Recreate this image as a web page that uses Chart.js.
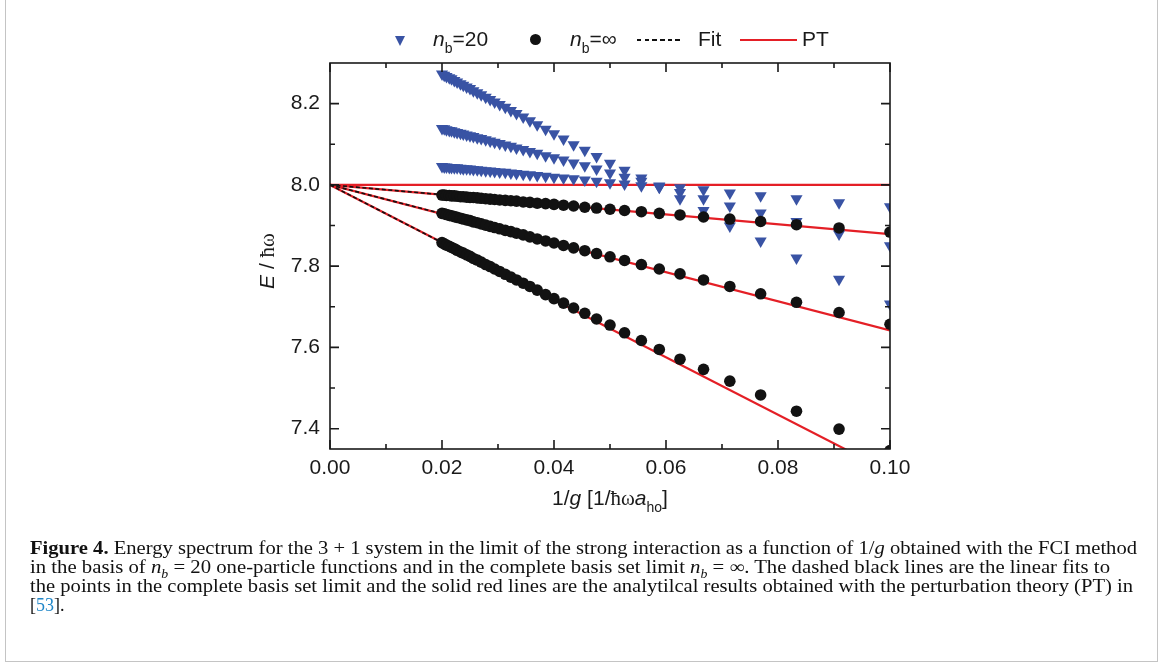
<!DOCTYPE html>
<html>
<head>
<meta charset="utf-8">
<script src="https://cdn.jsdelivr.net/npm/chart.js@4.4.1/dist/chart.umd.min.js"></script>
<style>
  html, body { margin: 0; padding: 0; background: #fff; }
  body { width: 1165px; height: 664px; position: relative; overflow: hidden; font-family: 'Liberation Sans', Arial, sans-serif; color: #1a1a1a; }
  #frame { position: absolute; left: 5px; top: -1px; width: 1153px; height: 663px; border: 1px solid #c4c4c4; box-sizing: border-box; }
  #chart { position: absolute; left: 0; top: 0; }
  .lbl { position: absolute; font-size: 21px; line-height: 24px; white-space: nowrap; }
  .sub { font-size: 14px; position: relative; top: 7px; }
  .serif { font-family: 'Liberation Serif', 'Times New Roman', serif; }
  #caption { position: absolute; left: 30px; top: 539px; font-family: 'Liberation Serif', 'Times New Roman', serif; font-size: 18px; line-height: 19px; color: #111; }
  #caption div { white-space: nowrap; transform-origin: left center; width: max-content; }
  #caption sub { font-size: 12px; line-height: 0; }
  .ref { color: #1f86c8; }
</style>
</head>
<body>
<div id="frame"></div>
<canvas id="chart" width="1165" height="540"></canvas>

<!-- legend -->
<div style="position:absolute;left:395px;top:36px;width:0;height:0;border-left:5.5px solid transparent;border-right:5.5px solid transparent;border-top:10px solid #3953a4"></div>
<div class="lbl" style="left:433px;top:27px"><i>n</i><span class="sub">b</span>=20</div>
<div style="position:absolute;left:530px;top:34px;width:11px;height:11px;border-radius:50%;background:#121212"></div>
<div class="lbl" style="left:570px;top:27px"><i>n</i><span class="sub">b</span>=∞</div>
<div style="position:absolute;left:637px;top:39px;width:46px;height:2px;background:repeating-linear-gradient(90deg,#111 0 4.5px,transparent 4.5px 7.7px)"></div>
<div class="lbl" style="left:698px;top:27px">Fit</div>
<div style="position:absolute;left:740px;top:39px;width:57px;height:2px;background:#e41f26"></div>
<div class="lbl" style="left:802px;top:27px">PT</div>

<!-- axis titles -->
<div class="lbl" style="left:0;width:1220px;top:486px;text-align:center">1/<i>g</i> [1/<span class="serif">ħω</span><i>a</i><span class="sub">ho</span>]</div>
<div class="lbl" style="left:167px;top:249px;width:200px;height:24px;text-align:center;transform:rotate(-90deg)"><i>E</i> / <span class="serif">ħω</span></div>

<div id="caption">
  <div data-w="1107"><b>Figure 4.</b> Energy spectrum for the 3 + 1 system in the limit of the strong interaction as a function of 1/<i>g</i> obtained with the FCI method</div>
  <div data-w="1080">in the basis of <i>n<sub>b</sub></i> = 20 one-particle functions and in the complete basis set limit <i>n<sub>b</sub></i> = ∞. The dashed black lines are the linear fits to</div>
  <div data-w="1103">the points in the complete basis set limit and the solid red lines are the analytilcal results obtained with the perturbation theory (PT) in</div>
  <div>[<span class="ref">53</span>].</div>
</div>

<script>
// 1/g for g = 50 ... 10
const xs = [0.0200, 0.0204, 0.0208, 0.0213, 0.0217, 0.0222, 0.0227, 0.0233, 0.0238, 0.0244,
            0.0250, 0.0256, 0.0263, 0.0270, 0.0278, 0.0286, 0.0294, 0.0303, 0.0313, 0.0323,
            0.0333, 0.0345, 0.0357, 0.0370, 0.0385, 0.0400, 0.0417, 0.0435, 0.0455, 0.0476,
            0.0500, 0.0526, 0.0556, 0.0588, 0.0625, 0.0667, 0.0714, 0.0769, 0.0833, 0.0909,
            0.1000];

// n_b = infinity (black dots), three levels
const infTop = [7.975, 7.975, 7.974, 7.974, 7.973, 7.973, 7.972, 7.971, 7.971, 7.970,
                7.969, 7.969, 7.968, 7.967, 7.966, 7.965, 7.964, 7.963, 7.962, 7.961,
                7.960, 7.958, 7.957, 7.955, 7.954, 7.952, 7.950, 7.948, 7.945, 7.943,
                7.940, 7.937, 7.934, 7.930, 7.926, 7.921, 7.916, 7.910, 7.902, 7.894,
                7.884];
const infMid = [7.930, 7.929, 7.927, 7.925, 7.924, 7.922, 7.920, 7.918, 7.916, 7.914,
                7.912, 7.909, 7.907, 7.904, 7.901, 7.898, 7.895, 7.892, 7.888, 7.885,
                7.881, 7.877, 7.872, 7.867, 7.862, 7.857, 7.851, 7.845, 7.838, 7.831,
                7.823, 7.814, 7.804, 7.793, 7.781, 7.766, 7.750, 7.732, 7.711, 7.686,
                7.657];
const infLow = [7.858, 7.855, 7.852, 7.849, 7.846, 7.843, 7.839, 7.835, 7.832, 7.828,
                7.824, 7.819, 7.815, 7.810, 7.804, 7.799, 7.793, 7.787, 7.780, 7.773,
                7.766, 7.758, 7.750, 7.741, 7.730, 7.720, 7.709, 7.697, 7.684, 7.670,
                7.655, 7.636, 7.617, 7.595, 7.571, 7.546, 7.517, 7.483, 7.443, 7.399,
                7.346];

// n_b = 20 (blue triangles), three levels
const nb20A = [8.273, 8.270, 8.267, 8.264, 8.261, 8.257, 8.253, 8.249, 8.245, 8.241,
               8.237, 8.232, 8.227, 8.222, 8.216, 8.210, 8.204, 8.198, 8.191, 8.183,
               8.176, 8.167, 8.158, 8.148, 8.137, 8.126, 8.113, 8.099, 8.085, 8.070,
               8.053, 8.036, 8.017, 7.994, 7.966, 7.937, 7.899, 7.862, 7.820, 7.768,
               7.707];
const nb20B = [8.139, 8.138, 8.136, 8.134, 8.133, 8.131, 8.129, 8.127, 8.125, 8.123,
               8.121, 8.119, 8.116, 8.114, 8.111, 8.108, 8.105, 8.102, 8.098, 8.095,
               8.091, 8.087, 8.082, 8.078, 8.072, 8.067, 8.061, 8.054, 8.047, 8.039,
               8.029, 8.019, 8.009, 7.997, 7.981, 7.966, 7.948, 7.931, 7.910, 7.879,
               7.850];
const nb20C = [8.045, 8.044, 8.044, 8.043, 8.043, 8.042, 8.042, 8.041, 8.040, 8.040,
               8.039, 8.038, 8.037, 8.036, 8.035, 8.034, 8.033, 8.032, 8.031, 8.029,
               8.028, 8.026, 8.025, 8.023, 8.021, 8.019, 8.017, 8.015, 8.012, 8.009,
               8.005, 8.002, 7.998, 7.995, 7.993, 7.988, 7.980, 7.973, 7.966, 7.956,
               7.946];

// perturbation theory lines (x from 0 to 0.1)
const ptX = [0, 0.1];
const ptFlat = [8.0, 8.0];
const ptTop = [8.0, 7.879];
const ptMid = [8.0, 7.642];
const ptLow = [8.0, 7.293];

// linear fits (x from 0 to 0.02)
const fitX = [0, 0.02];
const fitTop = [8.0, 7.976];
const fitMid = [8.0, 7.929];
const fitLow = [8.0, 7.858];

const xMajor = [0, 0.02, 0.04, 0.06, 0.08, 0.1];
const xMinor = [0.01, 0.03, 0.05, 0.07, 0.09];
const yMajor = [7.4, 7.6, 7.8, 8.0, 8.2];
const yMinor = [7.5, 7.7, 7.9, 8.1];

const BLUE = '#3953a4', BLACK = '#121212', RED = '#e41f26';

const pts = (xv, yv) => xv.map((x, i) => ({ x: x, y: yv[i] }));

const dots = (yv) => ({ data: pts(xs, yv), pointStyle: 'circle', pointRadius: 5.8, backgroundColor: BLACK, borderWidth: 0, clip: 0, order: 0 });
const tris = (yv) => ({ data: pts(xs, yv), pointStyle: 'triangle', rotation: 180, pointRadius: 7, backgroundColor: BLUE, borderWidth: 0, clip: 0, order: 1 });
const fit = (yv) => ({ data: pts(fitX, yv), showLine: true, pointRadius: 0, borderColor: '#111', borderWidth: 1.6, borderDash: [4, 2.5], clip: 0, order: 2 });
const pt = (yv) => ({ data: pts(ptX, yv), showLine: true, pointRadius: 0, borderColor: RED, borderWidth: 2.2, clip: 0, order: 3 });

// frame with inward ticks on all four sides
const frameTicks = {
  id: 'frameTicks',
  afterDatasetsDraw(chart) {
    const { ctx, chartArea: a, scales: { x, y } } = chart;
    ctx.save();
    ctx.strokeStyle = '#1a1a1a';
    ctx.lineWidth = 1.6;
    ctx.strokeRect(a.left, a.top, a.right - a.left, a.bottom - a.top);
    ctx.beginPath();
    const xt = (v, len) => {
      const px = x.getPixelForValue(v);
      ctx.moveTo(px, a.bottom); ctx.lineTo(px, a.bottom - len);
      ctx.moveTo(px, a.top); ctx.lineTo(px, a.top + len);
    };
    const yt = (v, len) => {
      const py = y.getPixelForValue(v);
      ctx.moveTo(a.left, py); ctx.lineTo(a.left + len, py);
      ctx.moveTo(a.right, py); ctx.lineTo(a.right - len, py);
    };
    xMajor.forEach(v => xt(v, 9));
    xMinor.forEach(v => xt(v, 5));
    yMajor.forEach(v => yt(v, 9));
    yMinor.forEach(v => yt(v, 5));
    ctx.stroke();
    ctx.restore();
  }
};

Chart.defaults.font.family = "'Liberation Sans', Arial, sans-serif";
Chart.defaults.color = '#1a1a1a';

new Chart(document.getElementById('chart'), {
  type: 'scatter',
  data: {
    datasets: [
      dots(infTop), dots(infMid), dots(infLow),
      tris(nb20A), tris(nb20B), tris(nb20C),
      fit(fitTop), fit(fitMid), fit(fitLow),
      pt(ptFlat), pt(ptTop), pt(ptMid), pt(ptLow)
    ]
  },
  options: {
    responsive: false,
    animation: false,
    layout: { padding: { left: 0, top: 63, right: 275, bottom: 51 } },
    plugins: { legend: { display: false }, tooltip: { enabled: false } },
    scales: {
      x: {
        type: 'linear', min: 0, max: 0.1,
        grid: { display: false, drawTicks: false },
        border: { display: false },
        afterBuildTicks: s => { s.ticks = xMajor.map(v => ({ value: v })); },
        afterFit: s => { s.height = 40; },
        ticks: { font: { size: 21 }, padding: 7, maxRotation: 0, callback: v => v.toFixed(2) }
      },
      y: {
        type: 'linear', min: 7.35, max: 8.3,
        grid: { display: false, drawTicks: false },
        border: { display: false },
        afterBuildTicks: s => { s.ticks = yMajor.map(v => ({ value: v })); },
        afterFit: s => { s.width = 330; },
        ticks: { font: { size: 21 }, padding: 10, callback: v => v.toFixed(1) }
      }
    }
  },
  plugins: [frameTicks]
});

// fit caption lines to the widths in the figure
document.querySelectorAll('#caption div[data-w]').forEach(el => {
  const w = el.getBoundingClientRect().width;
  el.style.transform = 'scaleX(' + (+el.dataset.w / w) + ')';
});
</script>
</body>
</html>
